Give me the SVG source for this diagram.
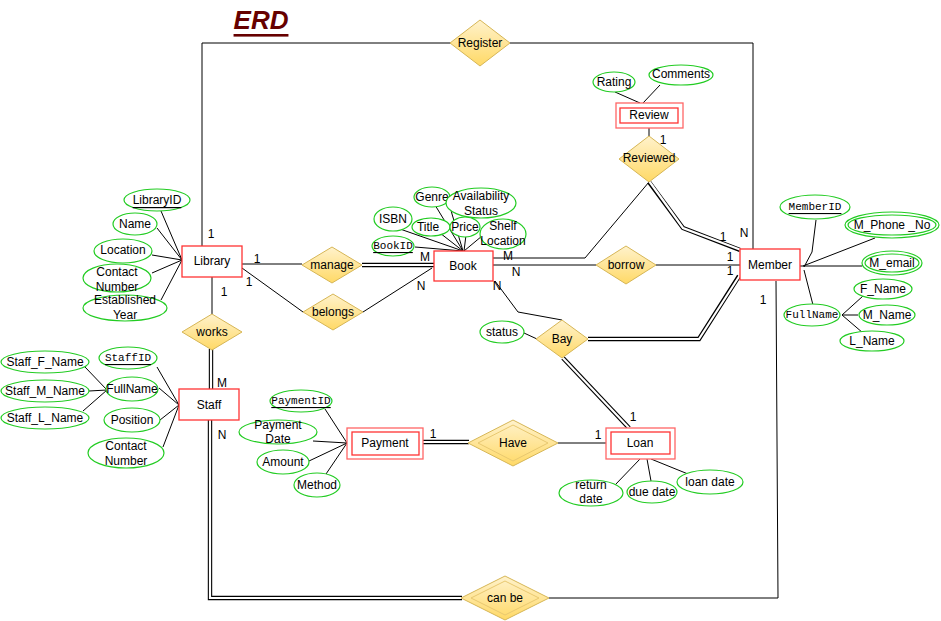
<svg xmlns="http://www.w3.org/2000/svg" width="941" height="621" viewBox="0 0 941 621">
<defs>
<linearGradient id="dg" x1="0" y1="0" x2="0" y2="1">
<stop offset="0" stop-color="#FFF2CC"/>
<stop offset="1" stop-color="#FFD966"/>
</linearGradient>
<style>
text{font-family:"Liberation Sans",Arial,sans-serif;font-size:12px;fill:#000;text-anchor:middle;dominant-baseline:central}
.mono{font-family:"Liberation Mono","DejaVu Sans Mono",monospace;font-size:11px}
.u{text-decoration:underline}
.ent{fill:#fff;stroke:#FF3333;stroke-width:1.3}
.ent2{fill:#fff;stroke:#FF6666;stroke-width:1.3}
.att{fill:#fff;stroke:#22CC22;stroke-width:1.2}
.rel{fill:url(#dg);stroke:#D6B656;stroke-width:1}
.ln{fill:none;stroke:#000;stroke-width:1}
.lnr{fill:none;stroke:#222;stroke-width:1}
.dblo{fill:none;stroke:#000;stroke-width:4.4}
.dbli{fill:none;stroke:#fff;stroke-width:2.2}
</style>
</defs>
<rect width="941" height="621" fill="#fff"/>
<text x="261" y="20" style="font-size:26px;font-weight:bold;font-style:italic;fill:#660000;text-decoration:underline">ERD</text>

<g id="connectors">
<polyline class="ln" points="202,246 202,43 451,43"/>
<polyline class="ln" points="510,43 753,43 753,249"/>
<line class="ln" x1="242" y1="264" x2="302" y2="264"/>
<line class="dblo" x1="362" y1="265" x2="434" y2="265"/><line class="dbli" x1="361" y1="265" x2="435" y2="265"/>
<line class="ln" x1="242" y1="268" x2="303" y2="312"/>
<line class="ln" x1="363" y1="312" x2="432" y2="268"/>
<line class="ln" x1="212" y1="277" x2="212" y2="314"/>
<line class="dblo" x1="211" y1="349" x2="211" y2="389"/><line class="dbli" x1="211" y1="348" x2="211" y2="390"/>
<polyline class="dblo" points="210,420 210,598 462,598"/><polyline class="dbli" points="210,419 210,598 463,598"/>
<polyline class="ln" points="549,598 778,598 776,281"/>
<polyline class="ln" points="649,182 585,258 493,258"/>
<polyline class="dblo" points="649,182 683,228 740,250"/><polyline class="dbli" points="649,181 683,228 741,250"/>
<line class="ln" x1="649" y1="128" x2="649" y2="136"/>
<line class="ln" x1="493" y1="265" x2="596" y2="265"/>
<line class="ln" x1="656" y1="265" x2="740" y2="265"/>
<polyline class="ln" points="495,281 518,312 562,320"/>
<polyline class="dblo" points="588,339 699,339 739,276"/><polyline class="dbli" points="587,339 699,339 740,275"/>
<line class="dblo" x1="563" y1="358" x2="629" y2="428"/><line class="dbli" x1="562" y1="357" x2="630" y2="429"/>
<line class="dblo" x1="423" y1="442" x2="469" y2="442"/><line class="dbli" x1="422" y1="442" x2="470" y2="442"/>
<line class="ln" x1="558" y1="443" x2="606" y2="443"/>
<line class="ln" x1="524" y1="333" x2="537" y2="339"/>
<!-- library attributes -->
<line class="ln" x1="161" y1="211" x2="182" y2="260"/>
<line class="ln" x1="157" y1="228" x2="182" y2="260"/>
<line class="ln" x1="152" y1="255" x2="182" y2="260"/>
<line class="ln" x1="152" y1="273" x2="182" y2="260"/>
<line class="ln" x1="161" y1="300" x2="182" y2="260"/>
<!-- book attributes -->
<line class="ln" x1="435" y1="205" x2="463" y2="251"/>
<polyline class="ln" points="451,210 452,214 463,251"/>
<line class="ln" x1="400" y1="229" x2="463" y2="251"/>
<line class="ln" x1="440" y1="233" x2="463" y2="251"/>
<line class="ln" x1="466" y1="235" x2="464" y2="251"/>
<line class="ln" x1="482" y1="236" x2="464" y2="251"/>
<line class="ln" x1="415" y1="247" x2="463" y2="251"/>
<!-- review attributes -->
<line class="ln" x1="615" y1="92" x2="640" y2="103"/>
<line class="ln" x1="660" y1="85" x2="643" y2="103"/>
<!-- member attributes -->
<polyline class="ln" points="816,220 812,252 804,267"/>
<line class="ln" x1="875" y1="238" x2="803" y2="266"/>
<line class="ln" x1="862" y1="266" x2="800" y2="266"/>
<line class="ln" x1="813" y1="305" x2="804" y2="270"/>
<line class="ln" x1="842" y1="315" x2="863" y2="296"/>
<line class="ln" x1="842" y1="315" x2="858" y2="315"/>
<line class="ln" x1="842" y1="315" x2="863" y2="333"/>
<!-- staff attributes -->
<line class="ln" x1="157" y1="367" x2="179" y2="405"/>
<line class="ln" x1="159" y1="388" x2="179" y2="405"/>
<line class="ln" x1="160" y1="420" x2="179" y2="405"/>
<line class="ln" x1="163" y1="447" x2="179" y2="405"/>
<line class="ln" x1="85" y1="367" x2="107" y2="390"/>
<line class="ln" x1="89" y1="391" x2="107" y2="390"/>
<line class="ln" x1="83" y1="411" x2="107" y2="390"/>
<!-- payment attributes -->
<line class="ln" x1="325" y1="409" x2="347" y2="443"/>
<line class="ln" x1="313" y1="441" x2="347" y2="443"/>
<line class="ln" x1="309" y1="461" x2="347" y2="443"/>
<line class="ln" x1="326" y1="474" x2="347" y2="443"/>
<!-- loan attributes -->
<line class="ln" x1="640" y1="459" x2="615" y2="485"/>
<line class="ln" x1="647" y1="459" x2="651" y2="481"/>
<line class="ln" x1="651" y1="459" x2="688" y2="474"/>
</g>

<g id="cardinalities">
<text x="211" y="234">1</text>
<text x="257" y="259">1</text>
<text x="249" y="282">1</text>
<text x="224" y="292">1</text>
<text x="425" y="257">M</text>
<text x="421" y="286">N</text>
<text x="508" y="256">M</text>
<text x="516" y="272">N</text>
<text x="497" y="286">N</text>
<text x="723" y="237">1</text>
<text x="744" y="233">N</text>
<text x="730" y="257">1</text>
<text x="730" y="271">1</text>
<text x="763" y="300">1</text>
<text x="663" y="140">1</text>
<text x="222" y="383">M</text>
<text x="222" y="435">N</text>
<text x="433" y="434">1</text>
<text x="598" y="435">1</text>
<text x="633" y="417">1</text>
</g>

<g id="register"><polygon class="rel" points="480,20 510,43 480,66 450,43"/><text x="480" y="43">Register</text></g>
<g id="manage"><polygon class="rel" points="332,247 362,265 332,283 302,265"/><text x="332" y="265">manage</text></g>
<g id="belongs"><polygon class="rel" points="333,294 363,312 333,330 303,312"/><text x="333" y="312">belongs</text></g>
<g id="works"><polygon class="rel" points="212,314 242,332 212,350 182,332"/><text x="212" y="332">works</text></g>
<g id="borrow"><polygon class="rel" points="626,246 656,265 626,284 596,265"/><text x="626" y="265">borrow</text></g>
<g id="bay"><polygon class="rel" points="562,320 588,339 562,358 536,339"/><text x="562" y="339">Bay</text></g>
<g id="reviewed"><polygon class="rel" points="649,136 679,159 649,182 619,159"/><text x="649" y="158">Reviewed</text></g>
<g id="have"><polygon class="rel" points="513,420 558,443 513,466 468,443"/><polygon fill="none" stroke="#E8C870" stroke-width="1" points="513,425 548,443 513,461 478,443"/><text x="513" y="443">Have</text></g>
<g id="canbe"><polygon class="rel" points="505,576 549,598 505,620 461,598"/><polygon fill="none" stroke="#E8C870" stroke-width="1" points="505,581 539,598 505,615 471,598"/><text x="505" y="598">can be</text></g>

<g id="library"><rect class="ent" x="182" y="246" width="60" height="31"/><text x="212" y="261">Library</text></g>
<g id="book"><rect class="ent" x="434" y="251" width="59" height="30"/><text x="463" y="266">Book</text></g>
<g id="member"><rect class="ent" x="740" y="249" width="60" height="31"/><text x="770" y="265">Member</text></g>
<g id="staff"><rect class="ent" x="179" y="389" width="60" height="31"/><text x="209" y="405">Staff</text></g>
<g id="review"><rect class="ent2" x="616" y="103" width="67" height="25"/><rect class="ent" x="620" y="108" width="58" height="15"/><text x="649" y="115">Review</text></g>
<g id="payment"><rect class="ent2" x="347" y="428" width="76" height="31"/><rect class="ent" x="352" y="432" width="67" height="23"/><text x="385" y="443">Payment</text></g>
<g id="loan"><rect class="ent2" x="606" y="428" width="69" height="31"/><rect class="ent" x="611" y="432" width="59" height="22"/><text x="640" y="443">Loan</text></g>

<g id="library-attrs">
<ellipse class="att" cx="157" cy="200" rx="33" ry="11"/><text x="157" y="200" class="u">LibraryID</text>
<ellipse class="att" cx="135" cy="224" rx="22" ry="11"/><text x="135" y="224">Name</text>
<ellipse class="att" cx="123" cy="251" rx="29" ry="12"/><text x="123" y="250">Location</text>
<ellipse class="att" cx="117" cy="278" rx="34" ry="14"/><text x="117" y="272">Contact</text><text x="117" y="287">Number</text>
<ellipse class="att" cx="125" cy="308" rx="42" ry="13"/><text x="125" y="300">Established</text><text x="125" y="315">Year</text>
</g>
<g id="book-attrs">
<ellipse class="att" cx="432" cy="197" rx="18" ry="10"/><text x="432" y="197">Genre</text>
<ellipse class="att" cx="481" cy="203" rx="35" ry="15"/><text x="481" y="196">Availability</text><text x="481" y="211">Status</text>
<ellipse class="att" cx="393" cy="219" rx="19" ry="12"/><text x="393" y="219">ISBN</text>
<ellipse class="att" cx="431" cy="227" rx="19" ry="9"/><text x="428" y="227">Title</text>
<ellipse class="att" cx="465" cy="227" rx="15" ry="10"/><text x="465" y="227">Price</text>
<ellipse class="att" cx="503" cy="234" rx="23" ry="15"/><text x="503" y="226">Shelf</text><text x="503" y="241">Location</text>
<ellipse class="att" cx="393" cy="246" rx="21" ry="10"/><text x="393" y="246" class="mono u">BookID</text>
</g>
<g id="review-attrs">
<ellipse class="att" cx="614" cy="82" rx="21" ry="10"/><text x="614" y="82">Rating</text>
<ellipse class="att" cx="681" cy="75" rx="32" ry="10"/><text x="681" y="74">Comments</text>
</g>
<g id="member-attrs">
<ellipse class="att" cx="815" cy="207" rx="35" ry="12"/><text x="815" y="207" class="mono u">MemberID</text>
<ellipse class="att" cx="892" cy="225" rx="47" ry="13"/><ellipse class="att" cx="892" cy="225" rx="44" ry="10"/><text x="892" y="225">M_Phone _No</text>
<ellipse class="att" cx="892" cy="263" rx="30" ry="12"/><ellipse class="att" cx="892" cy="263" rx="27" ry="9"/><text x="892" y="263">M_email</text>
<ellipse class="att" cx="812" cy="315" rx="28" ry="11"/><text x="812" y="315" class="mono">FullName</text>
<ellipse class="att" cx="883" cy="289" rx="29" ry="10"/><text x="883" y="289">F_Name</text>
<ellipse class="att" cx="887" cy="315" rx="28" ry="10"/><text x="887" y="315">M_Name</text>
<ellipse class="att" cx="872" cy="341" rx="32" ry="10"/><text x="872" y="341">L_Name</text>
</g>
<g id="staff-attrs">
<ellipse class="att" cx="128" cy="358" rx="29" ry="11"/><text x="128" y="358" class="mono u">StaffID</text>
<ellipse class="att" cx="132" cy="389" rx="26" ry="12"/><text x="132" y="389">FullName</text>
<ellipse class="att" cx="132" cy="420" rx="28" ry="12"/><text x="132" y="420">Position</text>
<ellipse class="att" cx="126" cy="453" rx="38" ry="15"/><text x="126" y="446">Contact</text><text x="126" y="461">Number</text>
<ellipse class="att" cx="45" cy="362" rx="44" ry="11"/><text x="45" y="362">Staff_F_Name</text>
<ellipse class="att" cx="45" cy="391" rx="44" ry="11"/><text x="45" y="391">Staff_M_Name</text>
<ellipse class="att" cx="45" cy="418" rx="44" ry="11"/><text x="45" y="418">Staff_L_Name</text>
</g>
<g id="payment-attrs">
<ellipse class="att" cx="301" cy="401" rx="31" ry="11"/><text x="301" y="401" class="mono u">PaymentID</text>
<ellipse class="att" cx="278" cy="432" rx="39" ry="12"/><text x="278" y="425">Payment</text><text x="278" y="439">Date</text>
<ellipse class="att" cx="283" cy="462" rx="26" ry="12"/><text x="283" y="462">Amount</text>
<ellipse class="att" cx="317" cy="485" rx="23" ry="12"/><text x="317" y="485">Method</text>
</g>
<g id="status-attr">
<ellipse class="att" cx="502" cy="332" rx="22" ry="11"/><text x="502" y="332">status</text>
</g>
<g id="loan-attrs">
<ellipse class="att" cx="591" cy="493" rx="32" ry="13"/><text x="591" y="485">return</text><text x="591" y="499">date</text>
<ellipse class="att" cx="652" cy="492" rx="25" ry="11"/><text x="652" y="492">due date</text>
<ellipse class="att" cx="710" cy="482" rx="33" ry="12"/><text x="710" y="482">loan date</text>
</g>
</svg>
